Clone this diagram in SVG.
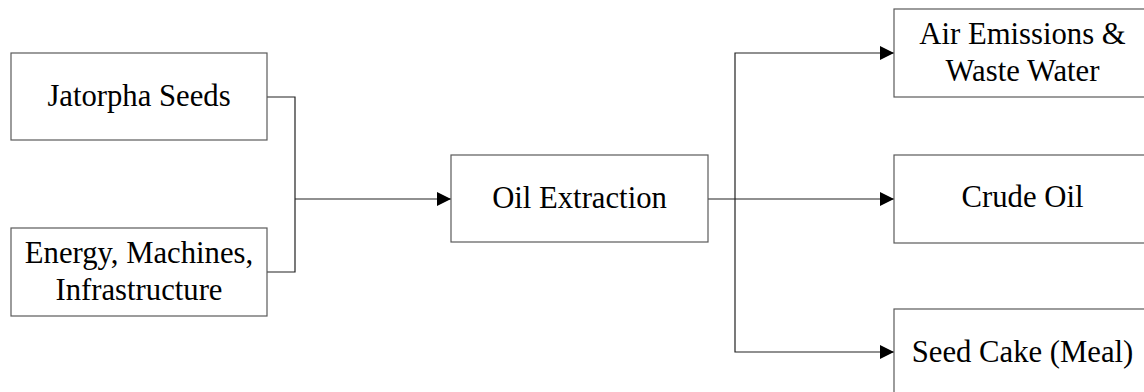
<svg xmlns="http://www.w3.org/2000/svg" width="1144" height="392" viewBox="0 0 1144 392">
  <defs>
    <marker id="arrow" markerUnits="userSpaceOnUse" markerWidth="14" markerHeight="14" refX="14" refY="7" orient="auto">
      <path d="M0,0 L14,7 L0,14 Z" fill="#000"/>
    </marker>
    <style>
      .box { fill: #fff; stroke: #5a5a5a; stroke-width: 1.2; }
      .lbl { font-size: 30.7px; fill: #000; text-anchor: middle; }
      .wire { fill: none; stroke: #222; stroke-width: 1.2; }
    </style>
  </defs>
  <rect width="1144" height="392" fill="#fff"/>

  <!-- flow lines -->
  <g id="connectors">
    <path class="wire" d="M267,97 H295 V272 H267"/>
    <path class="wire" d="M295,199 H451" marker-end="url(#arrow)"/>
    <path class="wire" d="M708,199 H894" marker-end="url(#arrow)"/>
    <path class="wire" d="M735,199 V53 H894" marker-end="url(#arrow)"/>
    <path class="wire" d="M735,199 V352 H894" marker-end="url(#arrow)"/>
  </g>

  <g font-family="'Liberation Serif', 'DejaVu Serif', serif">
    <g id="seeds">
      <rect class="box" x="11" y="53" width="256" height="87"/>
      <text class="lbl" x="139" y="106">Jatorpha Seeds</text>
    </g>

    <g id="energy">
      <rect class="box" x="11" y="228" width="256" height="88"/>
      <text class="lbl" x="139" y="263">Energy, Machines,</text>
      <text class="lbl" x="139" y="300">Infrastructure</text>
    </g>

    <g id="extraction">
      <rect class="box" x="451" y="155" width="257" height="87"/>
      <text class="lbl" x="579.5" y="208">Oil Extraction</text>
    </g>

    <g id="emissions">
      <rect class="box" x="894" y="9" width="257" height="88"/>
      <text class="lbl" x="1022.5" y="44">Air Emissions &amp;</text>
      <text class="lbl" x="1022.5" y="81">Waste Water</text>
    </g>

    <g id="crude-oil">
      <rect class="box" x="894" y="155" width="257" height="88"/>
      <text class="lbl" x="1022.5" y="207">Crude Oil</text>
    </g>

    <g id="seed-cake">
      <rect class="box" x="894" y="309" width="257" height="88"/>
      <text class="lbl" x="1022.5" y="362">Seed Cake (Meal)</text>
    </g>
  </g>
</svg>
